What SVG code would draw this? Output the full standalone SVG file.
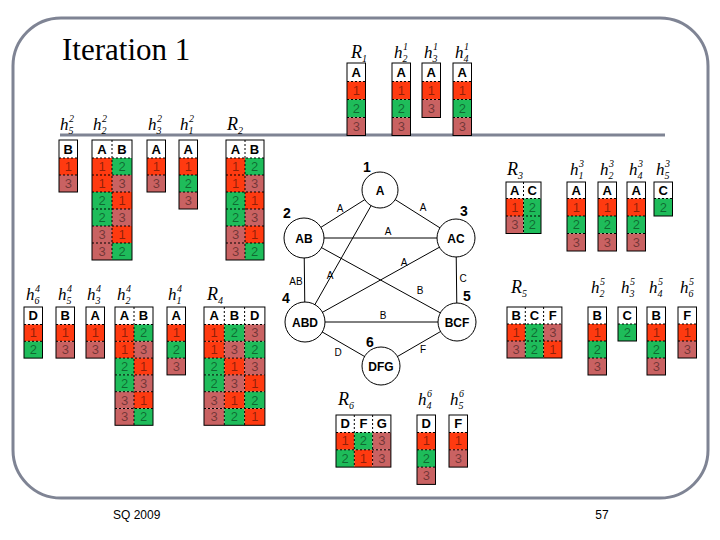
<svg xmlns="http://www.w3.org/2000/svg" width="720" height="540" viewBox="0 0 720 540">
<style>
.fr{fill:none;stroke:#7f8494;stroke-width:3}
.h{fill:#fff}
.c1{fill:#ff3a10}.c2{fill:#1ebc5a}.c3{fill:#c96262}
.bd{fill:none;stroke:#000;stroke-width:1}
.ds{fill:none;stroke:#000;stroke-width:1;stroke-dasharray:2 2}
.th{font:bold 13px "Liberation Sans",Arial,sans-serif;text-anchor:middle;fill:#000}
.tv{font:13px "Liberation Sans",Arial,sans-serif;text-anchor:middle;fill:#000;fill-opacity:.45}
.hl{font:italic 17px "Liberation Serif","Times New Roman",serif;fill:#000}
.rl{font:italic 18px "Liberation Serif","Times New Roman",serif;fill:#000}
.sc{font-size:10px}
.nd circle{fill:#fff;stroke:#000;stroke-width:1}
.nt{font:bold 12px "Liberation Sans",Arial,sans-serif;text-anchor:middle;fill:#000}
.nn{font:bold 14px "Liberation Sans",Arial,sans-serif;text-anchor:middle;fill:#000}
.el{font:10px "Liberation Sans",Arial,sans-serif;text-anchor:middle;fill:#000}
.ed line{stroke:#000;stroke-width:1}
</style>
<rect width="720" height="540" fill="#fff"/>
<rect class="fr" x="13" y="18" width="695" height="480" rx="48" ry="48"/>
<line class="fr" x1="60" y1="135" x2="665" y2="135"/>
<text x="62" y="60" style="font:31px 'Liberation Serif','Times New Roman',serif">Iteration 1</text>
<text x="113" y="519" style="font:12px 'Liberation Sans',Arial,sans-serif">SQ 2009</text>
<text x="602" y="519" text-anchor="middle" style="font:12px 'Liberation Sans',Arial,sans-serif">57</text>

<!-- labels -->
<g id="labels">
<text class="rl" x="351" y="58">R<tspan class="sc" dy="4">1</tspan></text>
<text class="hl" x="394" y="58">h<tspan class="sc" dy="4">2</tspan><tspan class="sc" x="403" dy="-12">1</tspan></text>
<text class="hl" x="424" y="58">h<tspan class="sc" dy="4">3</tspan><tspan class="sc" x="433" dy="-12">1</tspan></text>
<text class="hl" x="455" y="58">h<tspan class="sc" dy="4">4</tspan><tspan class="sc" x="464" dy="-12">1</tspan></text>

<text class="hl" x="60" y="130">h<tspan class="sc" dy="4">5</tspan><tspan class="sc" x="69" dy="-12">2</tspan></text>
<text class="hl" x="93" y="130">h<tspan class="sc" dy="4">2</tspan><tspan class="sc" x="102" dy="-12">2</tspan></text>
<text class="hl" x="148" y="130">h<tspan class="sc" dy="4">3</tspan><tspan class="sc" x="157" dy="-12">2</tspan></text>
<text class="hl" x="180" y="130">h<tspan class="sc" dy="4">1</tspan><tspan class="sc" x="189" dy="-12">2</tspan></text>
<text class="rl" x="227" y="130">R<tspan class="sc" dy="4">2</tspan></text>

<text class="rl" x="507" y="175">R<tspan class="sc" dy="4">3</tspan></text>
<text class="hl" x="570" y="175">h<tspan class="sc" dy="4">1</tspan><tspan class="sc" x="579" dy="-12">3</tspan></text>
<text class="hl" x="600" y="175">h<tspan class="sc" dy="4">2</tspan><tspan class="sc" x="609" dy="-12">3</tspan></text>
<text class="hl" x="629" y="175">h<tspan class="sc" dy="4">4</tspan><tspan class="sc" x="638" dy="-12">3</tspan></text>
<text class="hl" x="656" y="175">h<tspan class="sc" dy="4">5</tspan><tspan class="sc" x="665" dy="-12">3</tspan></text>

<text class="hl" x="26" y="300">h<tspan class="sc" dy="4">6</tspan><tspan class="sc" x="35" dy="-12">4</tspan></text>
<text class="hl" x="58" y="300">h<tspan class="sc" dy="4">5</tspan><tspan class="sc" x="67" dy="-12">4</tspan></text>
<text class="hl" x="87" y="300">h<tspan class="sc" dy="4">3</tspan><tspan class="sc" x="96" dy="-12">4</tspan></text>
<text class="hl" x="117" y="300">h<tspan class="sc" dy="4">2</tspan><tspan class="sc" x="126" dy="-12">4</tspan></text>
<text class="hl" x="168" y="300">h<tspan class="sc" dy="4">1</tspan><tspan class="sc" x="177" dy="-12">4</tspan></text>
<text class="rl" x="207" y="300">R<tspan class="sc" dy="4">4</tspan></text>

<text class="rl" x="511" y="293">R<tspan class="sc" dy="4">5</tspan></text>
<text class="hl" x="591" y="293">h<tspan class="sc" dy="4">2</tspan><tspan class="sc" x="600" dy="-12">5</tspan></text>
<text class="hl" x="621" y="293">h<tspan class="sc" dy="4">3</tspan><tspan class="sc" x="630" dy="-12">5</tspan></text>
<text class="hl" x="649" y="293">h<tspan class="sc" dy="4">4</tspan><tspan class="sc" x="658" dy="-12">5</tspan></text>
<text class="hl" x="680" y="293">h<tspan class="sc" dy="4">6</tspan><tspan class="sc" x="689" dy="-12">5</tspan></text>

<text class="rl" x="338" y="405">R<tspan class="sc" dy="4">6</tspan></text>
<text class="hl" x="418" y="405">h<tspan class="sc" dy="4">4</tspan><tspan class="sc" x="427" dy="-12">6</tspan></text>
<text class="hl" x="450" y="405">h<tspan class="sc" dy="4">5</tspan><tspan class="sc" x="459" dy="-12">6</tspan></text>
</g>

<!-- Row 1 tables -->
<g id="R1" transform="translate(347,63)">
<rect class="h" width="18.5" height="18.5"/><rect class="c1" y="18.5" width="18.5" height="18"/><rect class="c2" y="36.5" width="18.5" height="18"/><rect class="c3" y="54.5" width="18.5" height="18"/>
<path class="ds" d="M0 18.5h18.5M0 36.5h18.5M0 54.5h18.5"/><rect class="bd" width="18.5" height="72.5"/>
<text class="th" x="9.25" y="14">A</text><text class="tv" x="9.25" y="32">1</text><text class="tv" x="9.25" y="50">2</text><text class="tv" x="9.25" y="68">3</text>
</g>
<g id="h2_1" transform="translate(392,63)">
<rect class="h" width="18.5" height="18.5"/><rect class="c1" y="18.5" width="18.5" height="18"/><rect class="c2" y="36.5" width="18.5" height="18"/><rect class="c3" y="54.5" width="18.5" height="18"/>
<path class="ds" d="M0 18.5h18.5M0 36.5h18.5M0 54.5h18.5"/><rect class="bd" width="18.5" height="72.5"/>
<text class="th" x="9.25" y="14">A</text><text class="tv" x="9.25" y="32">1</text><text class="tv" x="9.25" y="50">2</text><text class="tv" x="9.25" y="68">3</text>
</g>
<g id="h3_1" transform="translate(422,63)">
<rect class="h" width="18.5" height="18.5"/><rect class="c1" y="18.5" width="18.5" height="18"/><rect class="c3" y="36.5" width="18.5" height="18"/>
<path class="ds" d="M0 18.5h18.5M0 36.5h18.5"/><rect class="bd" width="18.5" height="54.5"/>
<text class="th" x="9.25" y="14">A</text><text class="tv" x="9.25" y="32">1</text><text class="tv" x="9.25" y="50">3</text>
</g>
<g id="h4_1" transform="translate(453,63)">
<rect class="h" width="18.5" height="18.5"/><rect class="c1" y="18.5" width="18.5" height="18"/><rect class="c2" y="36.5" width="18.5" height="18"/><rect class="c3" y="54.5" width="18.5" height="18"/>
<path class="ds" d="M0 18.5h18.5M0 36.5h18.5M0 54.5h18.5"/><rect class="bd" width="18.5" height="72.5"/>
<text class="th" x="9.25" y="14">A</text><text class="tv" x="9.25" y="32">1</text><text class="tv" x="9.25" y="50">2</text><text class="tv" x="9.25" y="68">3</text>
</g>

<!-- Row 2 tables -->
<g id="h5_2" transform="translate(59,140)">
<rect class="h" width="18.5" height="18"/><rect class="c1" y="18" width="18.5" height="17"/><rect class="c3" y="35" width="18.5" height="17"/>
<path class="ds" d="M0 18h18.5M0 35h18.5"/><rect class="bd" width="18.5" height="52"/>
<text class="th" x="9.25" y="13.5">B</text><text class="tv" x="9.25" y="31">1</text><text class="tv" x="9.25" y="48">3</text>
</g>
<g id="h2_2" transform="translate(92,140)">
<rect class="h" width="40" height="18"/>
<rect class="c1" y="18" width="20" height="17"/><rect class="c2" x="20" y="18" width="20" height="17"/>
<rect class="c1" y="35" width="20" height="17"/><rect class="c3" x="20" y="35" width="20" height="17"/>
<rect class="c2" y="52" width="20" height="17"/><rect class="c1" x="20" y="52" width="20" height="17"/>
<rect class="c2" y="69" width="20" height="17"/><rect class="c3" x="20" y="69" width="20" height="17"/>
<rect class="c3" y="86" width="20" height="17"/><rect class="c1" x="20" y="86" width="20" height="17"/>
<rect class="c3" y="103" width="20" height="17"/><rect class="c2" x="20" y="103" width="20" height="17"/>
<path class="ds" d="M0 18h40M0 35h40M0 52h40M0 69h40M0 86h40M0 103h40M20 0v120"/><rect class="bd" width="40" height="120"/>
<text class="th" x="10" y="13.5">A</text><text class="th" x="30" y="13.5">B</text>
<text class="tv" x="10" y="31">1</text><text class="tv" x="30" y="31">2</text>
<text class="tv" x="10" y="48">1</text><text class="tv" x="30" y="48">3</text>
<text class="tv" x="10" y="65">2</text><text class="tv" x="30" y="65">1</text>
<text class="tv" x="10" y="82">2</text><text class="tv" x="30" y="82">3</text>
<text class="tv" x="10" y="99">3</text><text class="tv" x="30" y="99">1</text>
<text class="tv" x="10" y="116">3</text><text class="tv" x="30" y="116">2</text>
</g>
<g id="h3_2" transform="translate(147,140)">
<rect class="h" width="18.5" height="18"/><rect class="c1" y="18" width="18.5" height="17"/><rect class="c3" y="35" width="18.5" height="17"/>
<path class="ds" d="M0 18h18.5M0 35h18.5"/><rect class="bd" width="18.5" height="52"/>
<text class="th" x="9.25" y="13.5">A</text><text class="tv" x="9.25" y="31">1</text><text class="tv" x="9.25" y="48">3</text>
</g>
<g id="h1_2" transform="translate(179,140)">
<rect class="h" width="18.5" height="18"/><rect class="c1" y="18" width="18.5" height="17"/><rect class="c2" y="35" width="18.5" height="17"/><rect class="c3" y="52" width="18.5" height="17"/>
<path class="ds" d="M0 18h18.5M0 35h18.5M0 52h18.5"/><rect class="bd" width="18.5" height="69"/>
<text class="th" x="9.25" y="13.5">A</text><text class="tv" x="9.25" y="31">1</text><text class="tv" x="9.25" y="48">2</text><text class="tv" x="9.25" y="65">3</text>
</g>
<g id="R2" transform="translate(226,140)">
<rect class="h" width="38" height="18"/>
<rect class="c1" y="18" width="19" height="17"/><rect class="c2" x="19" y="18" width="19" height="17"/>
<rect class="c1" y="35" width="19" height="17"/><rect class="c3" x="19" y="35" width="19" height="17"/>
<rect class="c2" y="52" width="19" height="17"/><rect class="c1" x="19" y="52" width="19" height="17"/>
<rect class="c2" y="69" width="19" height="17"/><rect class="c3" x="19" y="69" width="19" height="17"/>
<rect class="c3" y="86" width="19" height="17"/><rect class="c1" x="19" y="86" width="19" height="17"/>
<rect class="c3" y="103" width="19" height="17"/><rect class="c2" x="19" y="103" width="19" height="17"/>
<path class="ds" d="M0 18h38M0 35h38M0 52h38M0 69h38M0 86h38M0 103h38M19 0v120"/><rect class="bd" width="38" height="120"/>
<text class="th" x="9.5" y="13.5">A</text><text class="th" x="28.5" y="13.5">B</text>
<text class="tv" x="9.5" y="31">1</text><text class="tv" x="28.5" y="31">2</text>
<text class="tv" x="9.5" y="48">1</text><text class="tv" x="28.5" y="48">3</text>
<text class="tv" x="9.5" y="65">2</text><text class="tv" x="28.5" y="65">1</text>
<text class="tv" x="9.5" y="82">2</text><text class="tv" x="28.5" y="82">3</text>
<text class="tv" x="9.5" y="99">3</text><text class="tv" x="28.5" y="99">1</text>
<text class="tv" x="9.5" y="116">3</text><text class="tv" x="28.5" y="116">2</text>
</g>

<!-- R3 row -->
<g id="R3" transform="translate(506,182)">
<rect class="h" width="35" height="16.5"/>
<rect class="c1" y="16.5" width="17.5" height="17.5"/><rect class="c2" x="17.5" y="16.5" width="17.5" height="17.5"/>
<rect class="c3" y="34" width="17.5" height="17.5"/><rect class="c2" x="17.5" y="34" width="17.5" height="17.5"/>
<path class="ds" d="M0 16.5h35M0 34h35M17.5 0v51.5"/><rect class="bd" width="35" height="51.5"/>
<text class="th" x="8.75" y="12.5">A</text><text class="th" x="26.25" y="12.5">C</text>
<text class="tv" x="8.75" y="29.5">1</text><text class="tv" x="26.25" y="29.5">2</text>
<text class="tv" x="8.75" y="47">3</text><text class="tv" x="26.25" y="47">2</text>
</g>
<g id="h1_3" transform="translate(567,182)">
<rect class="h" width="18.5" height="16.5"/><rect class="c1" y="16.5" width="18.5" height="17.5"/><rect class="c2" y="34" width="18.5" height="17.5"/><rect class="c3" y="51.5" width="18.5" height="17.5"/>
<path class="ds" d="M0 16.5h18.5M0 34h18.5M0 51.5h18.5"/><rect class="bd" width="18.5" height="69"/>
<text class="th" x="9.25" y="12.5">A</text><text class="tv" x="9.25" y="29.5">1</text><text class="tv" x="9.25" y="47">2</text><text class="tv" x="9.25" y="64.5">3</text>
</g>
<g id="h2_3" transform="translate(598,182)">
<rect class="h" width="18.5" height="16.5"/><rect class="c1" y="16.5" width="18.5" height="17.5"/><rect class="c2" y="34" width="18.5" height="17.5"/><rect class="c3" y="51.5" width="18.5" height="17.5"/>
<path class="ds" d="M0 16.5h18.5M0 34h18.5M0 51.5h18.5"/><rect class="bd" width="18.5" height="69"/>
<text class="th" x="9.25" y="12.5">A</text><text class="tv" x="9.25" y="29.5">1</text><text class="tv" x="9.25" y="47">2</text><text class="tv" x="9.25" y="64.5">3</text>
</g>
<g id="h4_3" transform="translate(627,182)">
<rect class="h" width="18.5" height="16.5"/><rect class="c1" y="16.5" width="18.5" height="17.5"/><rect class="c2" y="34" width="18.5" height="17.5"/><rect class="c3" y="51.5" width="18.5" height="17.5"/>
<path class="ds" d="M0 16.5h18.5M0 34h18.5M0 51.5h18.5"/><rect class="bd" width="18.5" height="69"/>
<text class="th" x="9.25" y="12.5">A</text><text class="tv" x="9.25" y="29.5">1</text><text class="tv" x="9.25" y="47">2</text><text class="tv" x="9.25" y="64.5">3</text>
</g>
<g id="h5_3" transform="translate(654,182)">
<rect class="h" width="18.5" height="16.5"/><rect class="c2" y="16.5" width="18.5" height="17.5"/>
<path class="ds" d="M0 16.5h18.5"/><rect class="bd" width="18.5" height="34"/>
<text class="th" x="9.25" y="12.5">C</text><text class="tv" x="9.25" y="29.5">2</text>
</g>

<!-- Row 4 -->
<g id="h6_4" transform="translate(24,307)">
<rect class="h" width="18.5" height="17.5"/><rect class="c1" y="17.5" width="18.5" height="16.8"/><rect class="c2" y="34.3" width="18.5" height="16.8"/>
<path class="ds" d="M0 17.5h18.5M0 34.3h18.5"/><rect class="bd" width="18.5" height="51.1"/>
<text class="th" x="9.25" y="13">D</text><text class="tv" x="9.25" y="30.3">1</text><text class="tv" x="9.25" y="47.1">2</text>
</g>
<g id="h5_4" transform="translate(56,307)">
<rect class="h" width="18.5" height="17.5"/><rect class="c1" y="17.5" width="18.5" height="16.8"/><rect class="c3" y="34.3" width="18.5" height="16.8"/>
<path class="ds" d="M0 17.5h18.5M0 34.3h18.5"/><rect class="bd" width="18.5" height="51.1"/>
<text class="th" x="9.25" y="13">B</text><text class="tv" x="9.25" y="30.3">1</text><text class="tv" x="9.25" y="47.1">3</text>
</g>
<g id="h3_4" transform="translate(86,307)">
<rect class="h" width="18.5" height="17.5"/><rect class="c1" y="17.5" width="18.5" height="16.8"/><rect class="c3" y="34.3" width="18.5" height="16.8"/>
<path class="ds" d="M0 17.5h18.5M0 34.3h18.5"/><rect class="bd" width="18.5" height="51.1"/>
<text class="th" x="9.25" y="13">A</text><text class="tv" x="9.25" y="30.3">1</text><text class="tv" x="9.25" y="47.1">3</text>
</g>
<g id="h2_4" transform="translate(115,307)">
<rect class="h" width="38" height="17.5"/>
<rect class="c1" y="17.5" width="19" height="16.8"/><rect class="c2" x="19" y="17.5" width="19" height="16.8"/>
<rect class="c1" y="34.3" width="19" height="16.8"/><rect class="c3" x="19" y="34.3" width="19" height="16.8"/>
<rect class="c2" y="51.1" width="19" height="16.8"/><rect class="c1" x="19" y="51.1" width="19" height="16.8"/>
<rect class="c2" y="67.9" width="19" height="16.8"/><rect class="c3" x="19" y="67.9" width="19" height="16.8"/>
<rect class="c3" y="84.7" width="19" height="16.8"/><rect class="c1" x="19" y="84.7" width="19" height="16.8"/>
<rect class="c3" y="101.5" width="19" height="16.8"/><rect class="c2" x="19" y="101.5" width="19" height="16.8"/>
<path class="ds" d="M0 17.5h38M0 34.3h38M0 51.1h38M0 67.9h38M0 84.7h38M0 101.5h38M19 0v118.3"/><rect class="bd" width="38" height="118.3"/>
<text class="th" x="9.5" y="13">A</text><text class="th" x="28.5" y="13">B</text>
<text class="tv" x="9.5" y="30.3">1</text><text class="tv" x="28.5" y="30.3">2</text>
<text class="tv" x="9.5" y="47.1">1</text><text class="tv" x="28.5" y="47.1">3</text>
<text class="tv" x="9.5" y="63.9">2</text><text class="tv" x="28.5" y="63.9">1</text>
<text class="tv" x="9.5" y="80.7">2</text><text class="tv" x="28.5" y="80.7">3</text>
<text class="tv" x="9.5" y="97.5">3</text><text class="tv" x="28.5" y="97.5">1</text>
<text class="tv" x="9.5" y="114.3">3</text><text class="tv" x="28.5" y="114.3">2</text>
</g>
<g id="h1_4" transform="translate(167,307)">
<rect class="h" width="18.5" height="17.5"/><rect class="c1" y="17.5" width="18.5" height="16.8"/><rect class="c2" y="34.3" width="18.5" height="16.8"/><rect class="c3" y="51.1" width="18.5" height="16.8"/>
<path class="ds" d="M0 17.5h18.5M0 34.3h18.5M0 51.1h18.5"/><rect class="bd" width="18.5" height="67.9"/>
<text class="th" x="9.25" y="13">A</text><text class="tv" x="9.25" y="30.3">1</text><text class="tv" x="9.25" y="47.1">2</text><text class="tv" x="9.25" y="63.9">3</text>
</g>
<g id="R4" transform="translate(204,307)">
<rect class="h" width="60.9" height="17.5"/>
<rect class="c1" y="17.5" width="20.3" height="16.8"/><rect class="c2" x="20.3" y="17.5" width="20.3" height="16.8"/><rect class="c3" x="40.6" y="17.5" width="20.3" height="16.8"/>
<rect class="c1" y="34.3" width="20.3" height="16.8"/><rect class="c3" x="20.3" y="34.3" width="20.3" height="16.8"/><rect class="c2" x="40.6" y="34.3" width="20.3" height="16.8"/>
<rect class="c2" y="51.1" width="20.3" height="16.8"/><rect class="c1" x="20.3" y="51.1" width="20.3" height="16.8"/><rect class="c3" x="40.6" y="51.1" width="20.3" height="16.8"/>
<rect class="c2" y="67.9" width="20.3" height="16.8"/><rect class="c3" x="20.3" y="67.9" width="20.3" height="16.8"/><rect class="c1" x="40.6" y="67.9" width="20.3" height="16.8"/>
<rect class="c3" y="84.7" width="20.3" height="16.8"/><rect class="c1" x="20.3" y="84.7" width="20.3" height="16.8"/><rect class="c2" x="40.6" y="84.7" width="20.3" height="16.8"/>
<rect class="c3" y="101.5" width="20.3" height="16.8"/><rect class="c2" x="20.3" y="101.5" width="20.3" height="16.8"/><rect class="c1" x="40.6" y="101.5" width="20.3" height="16.8"/>
<path class="ds" d="M0 17.5h60.9M0 34.3h60.9M0 51.1h60.9M0 67.9h60.9M0 84.7h60.9M0 101.5h60.9M20.3 0v118.3M40.6 0v118.3"/><rect class="bd" width="60.9" height="118.3"/>
<text class="th" x="10.15" y="13">A</text><text class="th" x="30.45" y="13">B</text><text class="th" x="50.75" y="13">D</text>
<text class="tv" x="10.15" y="30.3">1</text><text class="tv" x="30.45" y="30.3">2</text><text class="tv" x="50.75" y="30.3">3</text>
<text class="tv" x="10.15" y="47.1">1</text><text class="tv" x="30.45" y="47.1">3</text><text class="tv" x="50.75" y="47.1">2</text>
<text class="tv" x="10.15" y="63.9">2</text><text class="tv" x="30.45" y="63.9">1</text><text class="tv" x="50.75" y="63.9">3</text>
<text class="tv" x="10.15" y="80.7">2</text><text class="tv" x="30.45" y="80.7">3</text><text class="tv" x="50.75" y="80.7">1</text>
<text class="tv" x="10.15" y="97.5">3</text><text class="tv" x="30.45" y="97.5">1</text><text class="tv" x="50.75" y="97.5">2</text>
<text class="tv" x="10.15" y="114.3">3</text><text class="tv" x="30.45" y="114.3">2</text><text class="tv" x="50.75" y="114.3">1</text>
</g>

<!-- R5 row -->
<g id="R5" transform="translate(507,307)">
<rect class="h" width="54.9" height="17"/>
<rect class="c1" y="17" width="18.3" height="17"/><rect class="c2" x="18.3" y="17" width="18.3" height="17"/><rect class="c3" x="36.6" y="17" width="18.3" height="17"/>
<rect class="c3" y="34" width="18.3" height="17"/><rect class="c2" x="18.3" y="34" width="18.3" height="17"/><rect class="c1" x="36.6" y="34" width="18.3" height="17"/>
<path class="ds" d="M0 17h54.9M0 34h54.9M18.3 0v51M36.6 0v51"/><rect class="bd" width="54.9" height="51"/>
<text class="th" x="9.15" y="12.8">B</text><text class="th" x="27.45" y="12.8">C</text><text class="th" x="45.75" y="12.8">F</text>
<text class="tv" x="9.15" y="30">1</text><text class="tv" x="27.45" y="30">2</text><text class="tv" x="45.75" y="30">3</text>
<text class="tv" x="9.15" y="47">3</text><text class="tv" x="27.45" y="47">2</text><text class="tv" x="45.75" y="47">1</text>
</g>
<g id="h2_5" transform="translate(588,307)">
<rect class="h" width="18.5" height="17"/><rect class="c1" y="17" width="18.5" height="17"/><rect class="c2" y="34" width="18.5" height="17"/><rect class="c3" y="51" width="18.5" height="17"/>
<path class="ds" d="M0 17h18.5M0 34h18.5M0 51h18.5"/><rect class="bd" width="18.5" height="68"/>
<text class="th" x="9.25" y="12.8">B</text><text class="tv" x="9.25" y="30">1</text><text class="tv" x="9.25" y="47">2</text><text class="tv" x="9.25" y="64">3</text>
</g>
<g id="h3_5" transform="translate(618,307)">
<rect class="h" width="18.5" height="17"/><rect class="c2" y="17" width="18.5" height="17"/>
<path class="ds" d="M0 17h18.5"/><rect class="bd" width="18.5" height="34"/>
<text class="th" x="9.25" y="12.8">C</text><text class="tv" x="9.25" y="30">2</text>
</g>
<g id="h4_5" transform="translate(647,307)">
<rect class="h" width="18.5" height="17"/><rect class="c1" y="17" width="18.5" height="17"/><rect class="c2" y="34" width="18.5" height="17"/><rect class="c3" y="51" width="18.5" height="17"/>
<path class="ds" d="M0 17h18.5M0 34h18.5M0 51h18.5"/><rect class="bd" width="18.5" height="68"/>
<text class="th" x="9.25" y="12.8">B</text><text class="tv" x="9.25" y="30">1</text><text class="tv" x="9.25" y="47">2</text><text class="tv" x="9.25" y="64">3</text>
</g>
<g id="h6_5" transform="translate(678,307)">
<rect class="h" width="18.5" height="17"/><rect class="c1" y="17" width="18.5" height="17"/><rect class="c3" y="34" width="18.5" height="17"/>
<path class="ds" d="M0 17h18.5M0 34h18.5"/><rect class="bd" width="18.5" height="51"/>
<text class="th" x="9.25" y="12.8">F</text><text class="tv" x="9.25" y="30">1</text><text class="tv" x="9.25" y="47">3</text>
</g>

<!-- R6 row -->
<g id="R6" transform="translate(336,415)">
<rect class="h" width="54.9" height="17.5"/>
<rect class="c1" y="17.5" width="18.3" height="17.3"/><rect class="c2" x="18.3" y="17.5" width="18.3" height="17.3"/><rect class="c3" x="36.6" y="17.5" width="18.3" height="17.3"/>
<rect class="c2" y="34.8" width="18.3" height="17.3"/><rect class="c1" x="18.3" y="34.8" width="18.3" height="17.3"/><rect class="c3" x="36.6" y="34.8" width="18.3" height="17.3"/>
<path class="ds" d="M0 17.5h54.9M0 34.8h54.9M18.3 0v52.1M36.6 0v52.1"/><rect class="bd" width="54.9" height="52.1"/>
<text class="th" x="9.15" y="13">D</text><text class="th" x="27.45" y="13">F</text><text class="th" x="45.75" y="13">G</text>
<text class="tv" x="9.15" y="30.3">1</text><text class="tv" x="27.45" y="30.3">2</text><text class="tv" x="45.75" y="30.3">3</text>
<text class="tv" x="9.15" y="47.6">2</text><text class="tv" x="27.45" y="47.6">1</text><text class="tv" x="45.75" y="47.6">3</text>
</g>
<g id="h4_6" transform="translate(417,415)">
<rect class="h" width="18.5" height="17.5"/><rect class="c1" y="17.5" width="18.5" height="17.3"/><rect class="c2" y="34.8" width="18.5" height="17.3"/><rect class="c3" y="52.1" width="18.5" height="17.3"/>
<path class="ds" d="M0 17.5h18.5M0 34.8h18.5M0 52.1h18.5"/><rect class="bd" width="18.5" height="69.4"/>
<text class="th" x="9.25" y="13">D</text><text class="tv" x="9.25" y="30.3">1</text><text class="tv" x="9.25" y="47.6">2</text><text class="tv" x="9.25" y="64.9">3</text>
</g>
<g id="h5_6" transform="translate(449,415)">
<rect class="h" width="18.5" height="17.5"/><rect class="c1" y="17.5" width="18.5" height="17.3"/><rect class="c3" y="34.8" width="18.5" height="17.3"/>
<path class="ds" d="M0 17.5h18.5M0 34.8h18.5"/><rect class="bd" width="18.5" height="52.1"/>
<text class="th" x="9.25" y="13">F</text><text class="tv" x="9.25" y="30.3">1</text><text class="tv" x="9.25" y="47.6">3</text>
</g>

<!-- Graph connectors -->
<g id="connectors" class="ed">
<line x1="380" y1="190" x2="304" y2="238"/>
<line x1="380" y1="190" x2="456" y2="238"/>
<line x1="304" y1="238" x2="456" y2="238"/>
<line x1="380" y1="190" x2="305" y2="322"/>
<line x1="456" y1="238" x2="305" y2="322"/>
<line x1="304" y1="238" x2="457" y2="322"/>
<line x1="304" y1="238" x2="305" y2="322"/>
<line x1="456" y1="238" x2="457" y2="322"/>
<line x1="305" y1="322" x2="457" y2="322"/>
<line x1="305" y1="322" x2="381" y2="366"/>
<line x1="457" y1="322" x2="381" y2="366"/>
<text class="el" x="340" y="211.5">A</text>
<text class="el" x="423" y="210.5">A</text>
<text class="el" x="388" y="234.5">A</text>
<text class="el" x="330" y="278.5">A</text>
<text class="el" x="404" y="265.5">A</text>
<text class="el" x="296" y="284.5">AB</text>
<text class="el" x="420" y="293.5">B</text>
<text class="el" x="463" y="281.5">C</text>
<text class="el" x="383" y="318.5">B</text>
<text class="el" x="338" y="355.5">D</text>
<text class="el" x="423" y="352.5">F</text>
</g>

<!-- Graph nodes -->
<g id="n1" class="nd"><circle cx="380" cy="190" r="18"/><text class="nt" x="380" y="194.5">A</text><text class="nn" x="367" y="172">1</text></g>
<g id="n2" class="nd"><circle cx="304" cy="238" r="20"/><text class="nt" x="304" y="242.5">AB</text><text class="nn" x="287" y="218">2</text></g>
<g id="n3" class="nd"><circle cx="456" cy="238" r="19"/><text class="nt" x="456" y="242.5">AC</text><text class="nn" x="464" y="216">3</text></g>
<g id="n4" class="nd"><circle cx="305" cy="322" r="20"/><text class="nt" x="305" y="326.5">ABD</text><text class="nn" x="286" y="303">4</text></g>
<g id="n5" class="nd"><circle cx="457" cy="322" r="19"/><text class="nt" x="457" y="326.5">BCF</text><text class="nn" x="467" y="301">5</text></g>
<g id="n6" class="nd"><circle cx="381" cy="366" r="19"/><text class="nt" x="381" y="370.5">DFG</text><text class="nn" x="370" y="347">6</text></g>
</svg>
